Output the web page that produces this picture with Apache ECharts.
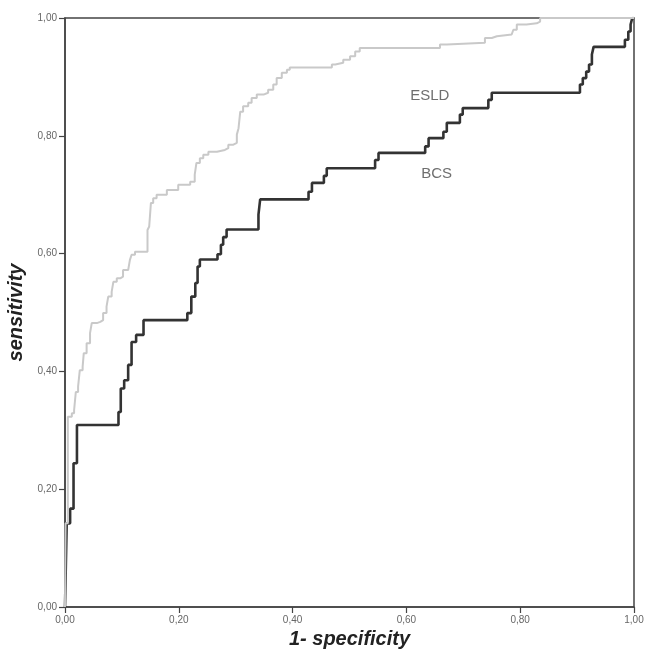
<!DOCTYPE html>
<html>
<head>
<meta charset="utf-8">
<script src="https://cdn.jsdelivr.net/npm/echarts@6/dist/echarts.min.js"></script>
<style>
html,body{margin:0;padding:0;background:#fff;}
#chart{width:646px;height:651px;}
</style>
</head>
<body>
<div id="chart"></div>
<script>
// ROC step points: at x the curve jumps up to y
const bcsX = [0.003,0.009,0.015,0.021,0.094,0.098,0.104,0.111,0.117,0.125,0.138,0.215,0.222,0.229,0.233,0.237,0.268,0.274,0.278,0.284,0.340,0.343,0.428,0.434,0.455,0.460,0.545,0.551,0.633,0.639,0.665,0.671,0.694,0.699,0.744,0.750,0.905,0.910,0.916,0.921,0.926,0.929,0.984,0.990,0.994,0.997];
const bcsY = [0.142,0.167,0.244,0.309,0.331,0.371,0.385,0.411,0.450,0.462,0.487,0.499,0.527,0.550,0.578,0.590,0.599,0.615,0.628,0.641,0.666,0.692,0.705,0.720,0.732,0.745,0.759,0.771,0.782,0.796,0.807,0.822,0.836,0.847,0.861,0.873,0.887,0.898,0.909,0.921,0.938,0.951,0.963,0.977,0.989,1.000];
const esldX = [0.001,0.005,0.012,0.016,0.019,0.023,0.026,0.031,0.033,0.038,0.044,0.047,0.056,0.062,0.067,0.073,0.076,0.082,0.085,0.091,0.097,0.102,0.111,0.114,0.117,0.123,0.145,0.148,0.151,0.155,0.161,0.179,0.199,0.220,0.228,0.231,0.237,0.243,0.252,0.267,0.281,0.287,0.296,0.302,0.305,0.308,0.313,0.322,0.328,0.337,0.349,0.357,0.366,0.372,0.381,0.390,0.395,0.469,0.475,0.489,0.501,0.510,0.518,0.659,0.671,0.738,0.750,0.759,0.785,0.788,0.794,0.811,0.829,0.835];
const esldY = [0.142,0.323,0.329,0.334,0.365,0.374,0.402,0.408,0.431,0.448,0.465,0.482,0.484,0.487,0.499,0.510,0.527,0.535,0.552,0.558,0.561,0.572,0.575,0.589,0.598,0.603,0.640,0.646,0.686,0.694,0.700,0.708,0.717,0.722,0.734,0.754,0.762,0.768,0.773,0.776,0.779,0.785,0.788,0.802,0.813,0.841,0.850,0.856,0.864,0.870,0.873,0.878,0.887,0.898,0.907,0.912,0.916,0.921,0.924,0.929,0.935,0.943,0.949,0.955,0.958,0.966,0.969,0.972,0.974,0.980,0.989,0.991,0.994,1.000];
const tickLabels = ['0,00','0,20','0,40','0,60','0,80','1,00'];
const seriesNames = ['ESLD','BCS'];
const labelPos = {ESLD:[0.641,0.868], BCS:[0.653,0.736]};

function staircase(xs, ys){
  const pts = [[0,0]];
  let prevY = 0;
  for (let i=0;i<xs.length;i++){
    pts.push([xs[i], prevY]);
    pts.push([xs[i], ys[i]]);
    prevY = ys[i];
  }
  pts.push([1, prevY]);
  return pts;
}
function fmt(v){
  const i = Math.round(v/0.2);
  return tickLabels[i] !== undefined ? tickLabels[i] : '';
}

const chart = echarts.init(document.getElementById('chart'), null, {renderer:'canvas'});
const axisCommon = {
  type:'value', min:0, max:1, interval:0.2,
  axisLine:{show:true, lineStyle:{color:'#444', width:1.5}},
  axisTick:{show:true, inside:false, length:6, lineStyle:{color:'#444', width:1.2}},
  splitLine:{show:false},
  axisLabel:{color:'#666', fontSize:10, fontFamily:'Liberation Sans, Arial, sans-serif', formatter:fmt, margin:8}
};
chart.setOption({
  animation:false,
  backgroundColor:'#fff',
  grid:{left:65, right:12, top:18, bottom:44, show:true, borderColor:'#444', borderWidth:1.5,
        containLabel:false, outerBoundsMode:'none'},
  xAxis:[Object.assign({}, axisCommon, {
    name:'1- specificity', nameLocation:'middle', nameGap:22,
    nameTextStyle:{fontSize:20, fontWeight:'bold', fontStyle:'italic', color:'#222', fontFamily:'Liberation Sans, Arial, sans-serif'}
  })],
  yAxis:[Object.assign({}, axisCommon, {
    name:'sensitivity', nameLocation:'middle', nameGap:36,
    nameTextStyle:{fontSize:20, fontWeight:'bold', fontStyle:'italic', color:'#222', fontFamily:'Liberation Sans, Arial, sans-serif'}
  })],
  series:[
    {name:seriesNames[1], type:'line', data:staircase(bcsX,bcsY), showSymbol:false, symbol:'none',
     lineStyle:{color:'#333', width:2.6}, z:3},
    {name:seriesNames[0], type:'line', data:staircase(esldX,esldY), showSymbol:false, symbol:'none',
     lineStyle:{color:'#c9c9c9', width:2}, z:4},
    {type:'scatter', symbolSize:0, silent:true, z:5,
     data:seriesNames.map(n=>({value:labelPos[n], name:n})),
     label:{show:true, position:'inside', formatter:p=>p.name, color:'#4a4a4a', fontSize:15, fontFamily:'Liberation Sans, Arial, sans-serif'}}
  ]
});
</script>
</body>
</html>
